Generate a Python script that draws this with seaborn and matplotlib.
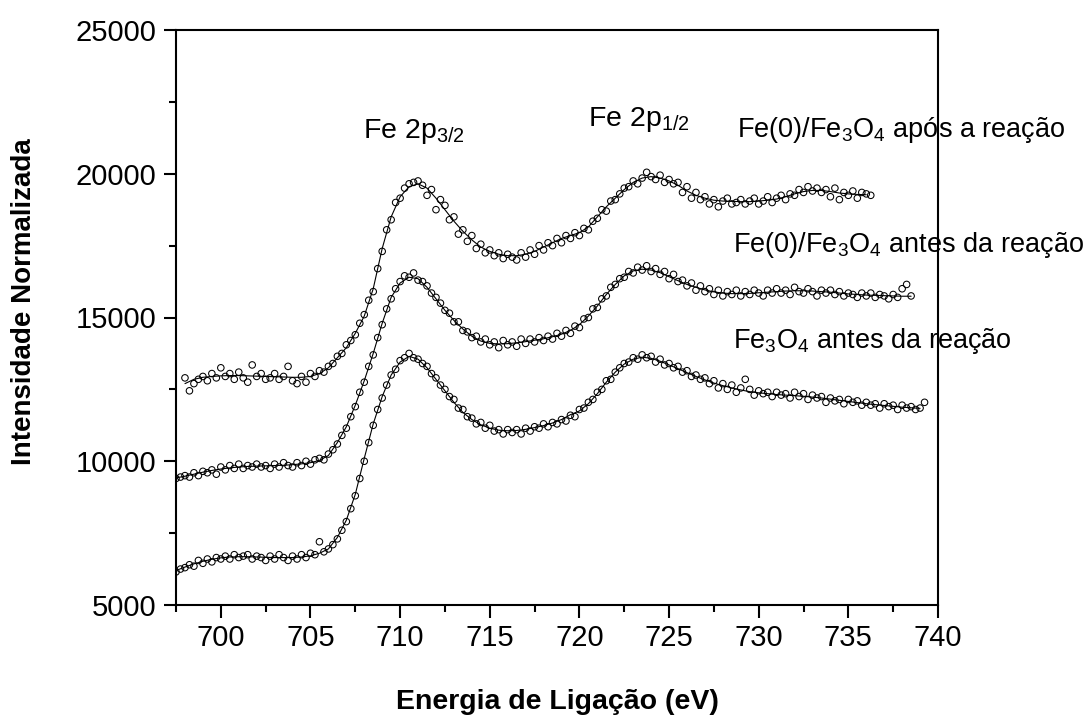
import numpy as np
import pandas as pd
import matplotlib
matplotlib.use("Agg")
import matplotlib.pyplot as plt
from matplotlib.ticker import MultipleLocator
import seaborn as sns

# ---------------- data ----------------
# fitted curves, 0.5 eV grid
fit_step = 0.5
top_fit_x0 = 698.0
top_fit = [12700, 12850, 12920, 12950, 12970, 12980, 12980, 12970, 12960, 12950,
           12940, 12930, 12920, 12920, 12950, 13050, 13250, 13600, 13950, 14450,
           15050, 16000, 17400, 18500, 19200, 19550, 19650, 19500, 19150, 18750,
           18350, 18000, 17700, 17450, 17300, 17200, 17150, 17150, 17200, 17300,
           17450, 17600, 17750, 17850, 17950, 18150, 18500, 18850, 19150, 19450,
           19700, 19850, 19900, 19850, 19750, 19600, 19400, 19250, 19150, 19080,
           19050, 19040, 19030, 19030, 19050, 19080, 19120, 19200, 19300, 19380,
           19420, 19420, 19380, 19330, 19300, 19280, 19270]

mid_fit_x0 = 697.5
mid_fit = [9420, 9480, 9550, 9620, 9680, 9730, 9770, 9800, 9820, 9830,
           9840, 9850, 9860, 9880, 9910, 9950, 10030, 10200, 10650, 11200,
           11950, 12800, 13750, 14800, 15700, 16200, 16400, 16350, 16050, 15650,
           15250, 14900, 14600, 14350, 14180, 14100, 14080, 14090, 14120, 14160,
           14210, 14260, 14330, 14420, 14550, 14750, 15050, 15400, 15800, 16150,
           16450, 16620, 16680, 16650, 16560, 16420, 16280, 16150, 16050, 15960,
           15890, 15850, 15830, 15830, 15840, 15860, 15880, 15900, 15920, 15930,
           15930, 15920, 15900, 15880, 15850, 15820, 15800, 15780, 15770, 15760,
           15750, 15740, 15740]

bot_fit_x0 = 697.5
bot_fit = [6200, 6320, 6430, 6520, 6590, 6640, 6670, 6680, 6680, 6670,
           6660, 6650, 6650, 6650, 6670, 6710, 6800, 6950, 7350, 7950,
           8850, 10100, 11300, 12250, 13000, 13450, 13650, 13550, 13250, 12850,
           12450, 12050, 11700, 11450, 11270, 11150, 11080, 11060, 11070, 11110,
           11170, 11240, 11330, 11450, 11620, 11750, 12000, 12350, 12750, 13100,
           13380, 13550, 13620, 13580, 13480, 13350, 13220, 13080, 12950, 12830,
           12720, 12630, 12550, 12480, 12420, 12380, 12350, 12320, 12300, 12280,
           12260, 12230, 12200, 12160, 12120, 12080, 12040, 12000, 11970, 11940,
           11910, 11880, 11860, 11840]

# measured points, 0.25 eV grid
pt_step = 0.25
top_pts_x0 = 698.0
top_pts = [12900, 12450, 12700, 12850, 12950, 12800, 13050, 12900, 13250, 12950,
           13050, 12850, 13100, 12900, 12750, 13350, 12950, 13050, 12850, 12900,
           13050, 12850, 12950, 13300, 12800, 12700, 12950, 12750, 13050, 12950,
           13150, 13100, 13300, 13400, 13650, 13750, 14050, 14200, 14400, 14800,
           15100, 15600, 15900, 16700, 17300, 18050, 18400, 19000, 19150, 19500,
           19650, 19700, 19750, 19600, 19250, 19450, 18750, 19100, 18900, 18400,
           18500, 17900, 18050, 17650, 17850, 17400, 17550, 17250, 17350, 17150,
           17250, 17050, 17200, 17100, 17000, 17250, 17100, 17350, 17200, 17500,
           17350, 17600, 17500, 17750, 17600, 17850, 17750, 17950, 17850, 18100,
           18050, 18350, 18450, 18750, 18700, 19050, 19100, 19300, 19500, 19550,
           19750, 19650, 19850, 20050, 19900, 19800, 19950, 19700, 19800, 19650,
           19700, 19350, 19550, 19150, 19350, 19100, 19200, 18950, 19100, 18850,
           19050, 19150, 18950, 19000, 19100, 18950, 19050, 19150, 18950, 19050,
           19200, 19000, 19150, 19250, 19100, 19300, 19250, 19450, 19350, 19550,
           19400, 19500, 19350, 19450, 19200, 19500, 19100, 19350, 19250, 19400,
           19150, 19350, 19300, 19250]

mid_pts_x0 = 697.5
mid_pts = [9400, 9450, 9500, 9450, 9600, 9500, 9650, 9600, 9700, 9550,
           9800, 9700, 9850, 9750, 9900, 9750, 9850, 9800, 9900, 9800,
           9850, 9750, 9900, 9800, 9950, 9850, 9800, 9950, 9850, 10000,
           9900, 10050, 10100, 10050, 10250, 10400, 10600, 10900, 11150, 11550,
           11900, 12400, 12750, 13300, 13700, 14300, 14750, 15300, 15650, 16000,
           16250, 16450, 16400, 16550, 16300, 16250, 16100, 15850, 15700, 15500,
           15250, 15150, 14850, 14850, 14550, 14500, 14300, 14350, 14150, 14250,
           14050, 14150, 13950, 14200, 14050, 14150, 14000, 14250, 14100, 14250,
           14150, 14300, 14200, 14350, 14250, 14450, 14350, 14550, 14450, 14700,
           14650, 14950, 15000, 15300, 15350, 15650, 15750, 16050, 16150, 16350,
           16400, 16600, 16550, 16750, 16650, 16800, 16600, 16700, 16500, 16600,
           16350, 16500, 16250, 16300, 16100, 16200, 15950, 16100, 15900, 16000,
           15800, 15950, 15750, 15900, 15800, 15950, 15750, 15900, 15800, 15950,
           15850, 15750, 15950, 15850, 16000, 15850, 15950, 15800, 16050, 15900,
           15850, 16000, 15900, 15750, 15950, 15850, 15950, 15800, 15900, 15750,
           15850, 15800, 15700, 15850, 15750, 15850, 15700, 15800, 15750, 15650,
           15800, 15700, 16000, 16150, 15750]

bot_pts_x0 = 697.5
bot_pts = [6150, 6250, 6300, 6400, 6350, 6550, 6450, 6600, 6500, 6650,
           6600, 6700, 6600, 6750, 6650, 6700, 6750, 6600, 6700, 6650,
           6550, 6700, 6600, 6750, 6650, 6550, 6700, 6600, 6750, 6650,
           6800, 6750, 7200, 6850, 6950, 7100, 7300, 7600, 7900, 8350,
           8800, 9400, 10000, 10650, 11250, 11800, 12200, 12650, 13000, 13200,
           13500, 13600, 13750, 13600, 13550, 13400, 13300, 13050, 12900, 12650,
           12500, 12250, 12150, 11850, 11800, 11550, 11500, 11300, 11350, 11150,
           11250, 11050, 11100, 10950, 11100, 11000, 11100, 10950, 11150, 11050,
           11200, 11150, 11300, 11200, 11350, 11300, 11450, 11400, 11600, 11550,
           11800, 11850, 12050, 12150, 12400, 12500, 12800, 12850, 13100, 13250,
           13400, 13450, 13600, 13550, 13700, 13600, 13650, 13450, 13550, 13350,
           13400, 13250, 13300, 13100, 13150, 12950, 13000, 12850, 12900, 12700,
           12800, 12550, 12700, 12500, 12650, 12400, 12550, 12850, 12500, 12300,
           12450, 12350, 12400, 12250, 12400, 12300, 12350, 12200, 12400, 12250,
           12350, 12150, 12300, 12200, 12250, 12050, 12200, 12100, 12150, 12000,
           12150, 12050, 12100, 11950, 12050, 11950, 12000, 11850, 12000, 11900,
           11950, 11800, 11950, 11850, 11900, 11800, 11850, 12050]

x_ticks = [700, 705, 710, 715, 720, 725, 730, 735, 740]
y_ticks = [5000, 10000, 15000, 20000, 25000]
x_label = "Energia de Ligação (eV)"
y_label = "Intensidade Normalizada"
peak_labels = ["Fe 2p$_\\mathregular{3/2}$", "Fe 2p$_\\mathregular{1/2}$"]
series_labels = ["Fe(0)/Fe$_\\mathregular{3}$O$_\\mathregular{4}$ após a reação",
                 "Fe(0)/Fe$_\\mathregular{3}$O$_\\mathregular{4}$ antes da reação",
                 "Fe$_\\mathregular{3}$O$_\\mathregular{4}$ antes da reação"]


def grid(x0, step, vals):
    return np.round(x0 + step * np.arange(len(vals)), 3)


# ---------------- style ----------------
sns.set_style("ticks")
plt.rcParams['font.family'] = ['Liberation Sans', 'DejaVu Sans']
plt.rcParams['mathtext.fontset'] = 'custom'
plt.rcParams['mathtext.rm'] = 'Liberation Sans'
plt.rcParams['mathtext.it'] = 'Liberation Sans:italic'
plt.rcParams['mathtext.bf'] = 'Liberation Sans:bold'
plt.rcParams['text.color'] = 'black'
plt.rcParams['axes.labelcolor'] = 'black'
plt.rcParams['xtick.color'] = 'black'
plt.rcParams['ytick.color'] = 'black'

fig = plt.figure(figsize=(10.92, 7.17), dpi=100)
ax = fig.add_axes([176 / 1092, 1 - 605 / 717, (938 - 176) / 1092, (605 - 30) / 717])

series = [
    (top_fit_x0, top_fit, top_pts_x0, top_pts),
    (mid_fit_x0, mid_fit, mid_pts_x0, mid_pts),
    (bot_fit_x0, bot_fit, bot_pts_x0, bot_pts),
]
for fx0, fv, px0, pv in series:
    sns.lineplot(x=grid(fx0, fit_step, fv), y=fv, ax=ax, color='black',
                 linewidth=0.8, estimator=None, sort=True, legend=False)
    sns.scatterplot(x=grid(px0, pt_step, pv), y=pv, ax=ax, marker='o', s=22,
                    facecolor='none', edgecolor='black', linewidth=0.75,
                    legend=False, zorder=3)

ax.set_xlim(697.5, 740)
ax.set_ylim(5000, 25000)
ax.set_xticks(x_ticks)
ax.set_yticks(y_ticks)
ax.xaxis.set_minor_locator(MultipleLocator(2.5))
ax.yaxis.set_minor_locator(MultipleLocator(2500))
ax.tick_params(which='major', direction='out', length=9, width=1.5,
               labelsize=21, pad=5, color='black', labelcolor='black')
ax.tick_params(which='minor', direction='out', length=5, width=1.5, color='black')
ax.tick_params(top=False, right=False, which='both')
for sp in ax.spines.values():
    sp.set_linewidth(1.5)
    sp.set_color('black')
    sp.set_visible(True)

ax.set_xlabel(x_label, fontsize=20.5, fontweight='bold', labelpad=26, color='black')
ax.set_ylabel(y_label, fontsize=20, fontweight='bold', color='black')
ax.yaxis.set_label_coords(-0.182, 0.527)

fs = 20.5
sfs = 19.5
ax.text(707.93, 21240, peak_labels[0], fontsize=fs, ha='left', va='baseline', color='black')
ax.text(720.5, 21650, peak_labels[1], fontsize=fs, ha='left', va='baseline', color='black')
ax.text(728.8, 21280, series_labels[0], fontsize=sfs, ha='left', va='baseline',
        clip_on=False, color='black')
ax.text(728.55, 17280, series_labels[1], fontsize=sfs, ha='left', va='baseline',
        clip_on=False, color='black')
ax.text(728.55, 13940, series_labels[2], fontsize=sfs, ha='left', va='baseline',
        clip_on=False, color='black')

fig.savefig("out.png", dpi=100, facecolor='white')
